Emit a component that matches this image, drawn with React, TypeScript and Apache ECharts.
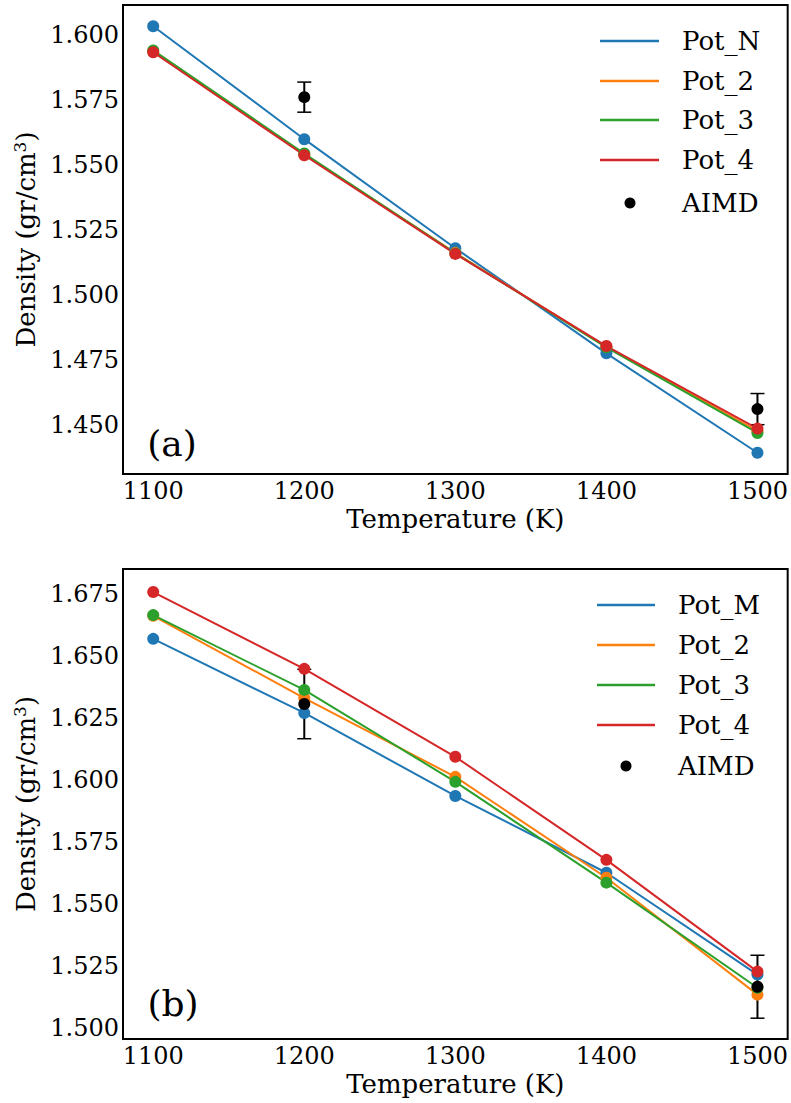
import React, { useEffect, useRef } from "react";
import * as echarts from "echarts";

// ---------- data ----------
const temps = [1100, 1200, 1300, 1400, 1500];
const xTicks = [1100, 1200, 1300, 1400, 1500];

// panel (a)
const aPotN = [1.6035, 1.5600, 1.5180, 1.4775, 1.4392];
const aPot2 = [1.5940, 1.5542, 1.5162, 1.4800, 1.4475];
const aPot3 = [1.5942, 1.5545, 1.5160, 1.4798, 1.4468];
const aPot4 = [1.5935, 1.5538, 1.5158, 1.4803, 1.4485];
const aAimdT = [1200, 1500];
const aAimd = [1.5762, 1.4560];
const aAimdErr = [0.0058, 0.0060];
const aYTicks = [1.45, 1.475, 1.5, 1.525, 1.55, 1.575, 1.6];

// panel (b)
const bPotM = [1.6569, 1.6270, 1.5935, 1.5625, 1.5214];
const bPot2 = [1.6662, 1.6330, 1.6012, 1.5605, 1.5133];
const bPot3 = [1.6665, 1.6363, 1.5992, 1.5585, 1.5161];
const bPot4 = [1.6758, 1.6448, 1.6093, 1.5677, 1.5226];
const bAimdT = [1200, 1500];
const bAimd = [1.6306, 1.5165];
const bAimdErr = [0.0140, 0.0127];
const bYTicks = [1.5, 1.525, 1.55, 1.575, 1.6, 1.625, 1.65, 1.675];

const namesA = ["Pot_N", "Pot_2", "Pot_3", "Pot_4"];
const namesB = ["Pot_M", "Pot_2", "Pot_3", "Pot_4"];
const colors = ["#1f77b4", "#ff7f0e", "#2ca02c", "#d62728"];

const FONT = "DejaVu Serif";
const FS = 24;
const NAME_FS = 26;
const LEG_FS = 26;

function pairs(xs: number[], ys: number[]) {
  return xs.map((x, i) => [x, ys[i]]);
}

function lineSeries(name: string, vals: number[], color: string, gi: number) {
  return {
    type: "line",
    name,
    xAxisIndex: gi,
    yAxisIndex: gi,
    data: pairs(temps, vals),
    symbol: "circle",
    symbolSize: 12,
    showSymbol: true,
    lineStyle: { color, width: 2 },
    itemStyle: { color, opacity: 1 },
    emphasis: { disabled: true },
  };
}

function errSeries(gi: number, xs: number[], ys: number[], es: number[]) {
  return {
    type: "custom",
    xAxisIndex: gi,
    yAxisIndex: gi,
    data: xs.map((x, i) => [x, ys[i], es[i]]),
    renderItem: (params: any, api: any) => {
      const x = api.value(0);
      const y = api.value(1);
      const e = api.value(2);
      const top = api.coord([x, y + e]);
      const bot = api.coord([x, y - e]);
      const hw = 7;
      const st = { stroke: "#000", lineWidth: 2 };
      return {
        type: "group",
        children: [
          { type: "line", shape: { x1: top[0], y1: top[1], x2: bot[0], y2: bot[1] }, style: st },
          { type: "line", shape: { x1: top[0] - hw, y1: top[1], x2: top[0] + hw, y2: top[1] }, style: { stroke: "#000", lineWidth: 1.5 } },
          { type: "line", shape: { x1: bot[0] - hw, y1: bot[1], x2: bot[0] + hw, y2: bot[1] }, style: { stroke: "#000", lineWidth: 1.5 } },
        ],
      };
    },
  };
}

function aimdSeries(gi: number, xs: number[], ys: number[]) {
  return {
    type: "scatter",
    name: "AIMD",
    xAxisIndex: gi,
    yAxisIndex: gi,
    data: pairs(xs, ys),
    symbol: "circle",
    symbolSize: 12,
    itemStyle: { color: "#000", opacity: 1 },
    emphasis: { disabled: true },
    z: 5,
  };
}

function xAxis(gi: number) {
  return {
    type: "value",
    gridIndex: gi,
    min: 1080,
    max: 1520,
    axisLine: { show: false },
    axisTick: { show: false },
    splitLine: { show: false },
    axisLabel: {
      customValues: xTicks,
      formatter: (v: number) => String(v),
      fontSize: FS,
      fontFamily: FONT,
      color: "#000",
      margin: 4,
      lineHeight: 26,
    },
    name: "Temperature (K)",
    nameLocation: "middle",
    nameGap: 32,
    nameTextStyle: { fontSize: NAME_FS, fontFamily: FONT, color: "#000", lineHeight: 26 },
  };
}

function yAxis(gi: number, min: number, max: number, ticks: number[]) {
  return {
    type: "value",
    gridIndex: gi,
    min,
    max,
    axisLine: { show: false },
    axisTick: { show: false },
    splitLine: { show: false },
    axisLabel: {
      customValues: ticks,
      formatter: (v: number) => v.toFixed(3),
      fontSize: FS,
      fontFamily: FONT,
      color: "#000",
      margin: 4,
    },
    name: "Density (gr/cm{sup|3})",
    nameLocation: "middle",
    nameGap: 82,
    nameTextStyle: {
      fontSize: NAME_FS,
      fontFamily: FONT,
      color: "#000",
      rich: {
        sup: { fontSize: 17, fontFamily: FONT, color: "#000", verticalAlign: "top", padding: [0, 0, 13, 0] },
      },
    },
  };
}

function legendGraphics(x1: number, x2: number, tx: number, ys: number[], names: string[], dotX: number, dotY: number) {
  const els: any[] = [];
  names.forEach((n, i) => {
    els.push({
      type: "line",
      shape: { x1, y1: ys[i], x2, y2: ys[i] },
      style: { stroke: colors[i], lineWidth: 2.5 },
    });
    els.push({
      type: "text",
      x: tx,
      y: ys[i],
      style: { text: n, fontSize: LEG_FS, fontFamily: FONT, fill: "#000", verticalAlign: "middle", align: "left" },
    });
  });
  els.push({ type: "circle", shape: { cx: dotX, cy: dotY, r: 5.5 }, style: { fill: "#000" } });
  els.push({
    type: "text",
    x: tx,
    y: dotY,
    style: { text: "AIMD", fontSize: LEG_FS, fontFamily: FONT, fill: "#000", verticalAlign: "middle", align: "left" },
  });
  return els;
}

export default function App() {
  const ref = useRef<HTMLDivElement>(null);
  useEffect(() => {
    if (!ref.current) return;
    const chart = echarts.init(ref.current, null, { renderer: "svg" });
    const option: any = {
      animation: false,
      backgroundColor: "#fff",
      textStyle: { fontFamily: FONT },
      grid: [
        { left: 123, right: 2, top: 5, height: 469, show: true, borderColor: "#000", borderWidth: 2, backgroundColor: "transparent" },
        { left: 123, right: 2, top: 569, height: 470, show: true, borderColor: "#000", borderWidth: 2, backgroundColor: "transparent" },
      ],
      xAxis: [xAxis(0), xAxis(1)],
      yAxis: [yAxis(0, 1.431, 1.6117, aYTicks), yAxis(1, 1.4954, 1.6851, bYTicks)],
      series: [
        lineSeries(namesA[0], aPotN, colors[0], 0),
        lineSeries(namesA[1], aPot2, colors[1], 0),
        lineSeries(namesA[2], aPot3, colors[2], 0),
        lineSeries(namesA[3], aPot4, colors[3], 0),
        errSeries(0, aAimdT, aAimd, aAimdErr),
        aimdSeries(0, aAimdT, aAimd),
        lineSeries(namesB[0], bPotM, colors[0], 1),
        lineSeries(namesB[1], bPot2, colors[1], 1),
        lineSeries(namesB[2], bPot3, colors[2], 1),
        lineSeries(namesB[3], bPot4, colors[3], 1),
        errSeries(1, bAimdT, bAimd, bAimdErr),
        aimdSeries(1, bAimdT, bAimd),
      ],
      graphic: [
        ...legendGraphics(600, 659, 682, [41, 81, 120, 160], namesA, 630, 203),
        ...legendGraphics(597, 655, 678, [605, 645, 685, 725], namesB, 626, 766),
        { type: "text", x: 172, y: 443, style: { text: "(a)", fontSize: 36, fontFamily: FONT, fill: "#000", align: "center", verticalAlign: "middle" } },
        { type: "text", x: 173, y: 1003, style: { text: "(b)", fontSize: 36, fontFamily: FONT, fill: "#000", align: "center", verticalAlign: "middle" } },
      ],
    };
    chart.setOption(option);
    return () => chart.dispose();
  }, []);
  return <div ref={ref} style={{ position: "absolute", left: 0, top: 0, width: 791, height: 1103 }} />;
}
